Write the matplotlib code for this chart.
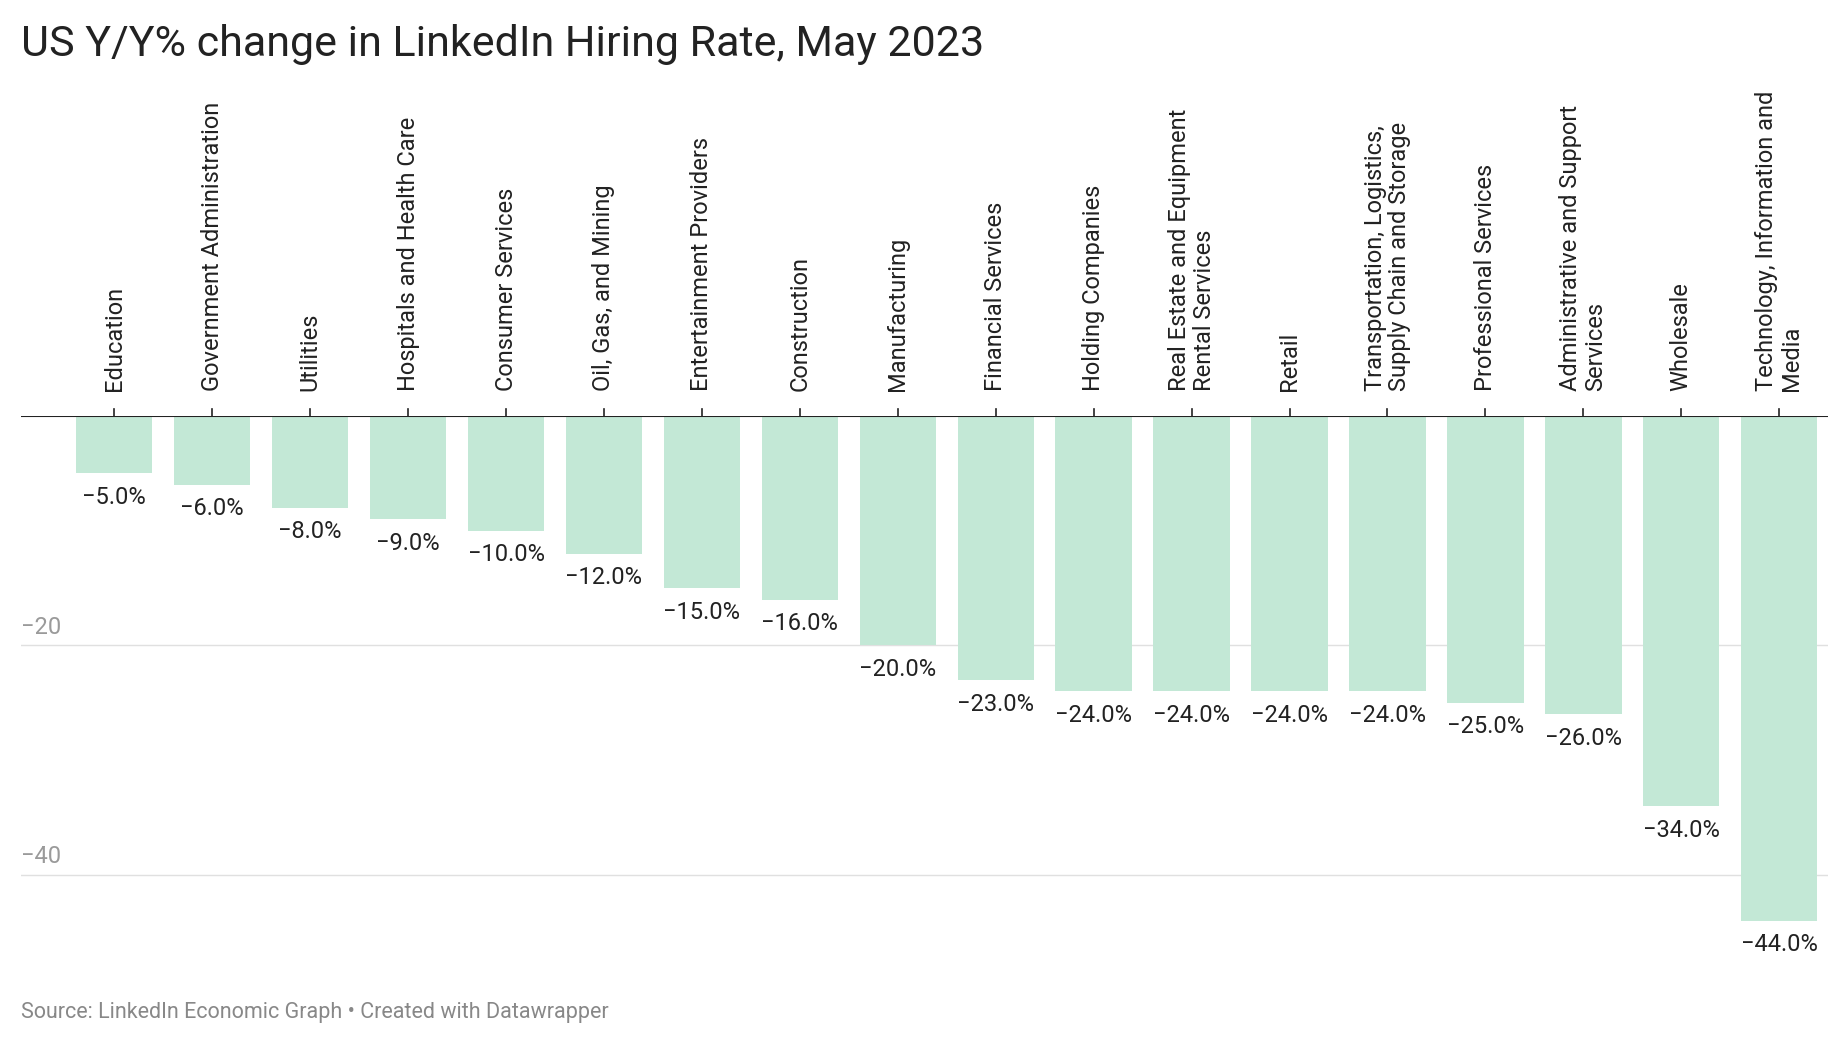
import matplotlib
matplotlib.use("Agg")
import matplotlib.pyplot as plt

categories = ["Education", "Government Administration", "Utilities", "Hospitals and Health Care",
              "Consumer Services", "Oil, Gas, and Mining", "Entertainment Providers", "Construction",
              "Manufacturing", "Financial Services", "Holding Companies",
              "Real Estate and Equipment\nRental Services", "Retail",
              "Transportation, Logistics,\nSupply Chain and Storage", "Professional Services",
              "Administrative and Support\nServices", "Wholesale", "Technology, Information and\nMedia"]
values = [-5, -6, -8, -9, -10, -12, -15, -16, -20, -23, -24, -24, -24, -24, -25, -26, -34, -44]
yticks = [-20, -40]

plt.rcParams['font.family'] = ['Roboto', 'DejaVu Sans']
fig = plt.figure(figsize=(18.4, 10.4), dpi=100)
ax = fig.add_axes([18/1560, 1-818/880, (1550-18)/1560, (818-352)/880])
x = list(range(len(values)))
ax.bar(x, values, width=0.78, color="#c3e8d6", zorder=2)
ax.set_xlim(-0.95, len(values) - 0.5)
ax.set_ylim(-48, 0)
for yt in yticks:
    ax.axhline(yt, color="#e0e0e0", lw=1, zorder=1)
    ax.text(-0.95, yt + 0.6, "\u2212%d" % abs(yt), color="#9a9a9a", fontsize=17, va="bottom", ha="left")
ax.axhline(0, color="#222222", lw=1.5, zorder=3)
for i, (c, v) in enumerate(zip(categories, values)):
    ax.text(i, v - 1.1, "\u2212%.1f%%" % abs(v), ha="center", va="top", fontsize=17, color="#222222")
    ax.plot([i, i], [0, 0.6], color="#222222", lw=1.2, clip_on=False)
    ax.text(i, 2.2, c, rotation=90, ha="center", va="bottom", fontsize=17,
            color="#222222", linespacing=1.1, multialignment="left")
ax.axis("off")
fig.text(18/1560, 1-38/880, "US Y/Y% change in LinkedIn Hiring Rate, May 2023", fontsize=31,
         color="#222222", va="center", ha="left")
fig.text(18/1560, 1-857/880, "Source: LinkedIn Economic Graph \u2022 Created with Datawrapper",
         fontsize=15.5, color="#888888", va="center", ha="left")
fig.savefig("out.png", dpi=100, facecolor="white")
